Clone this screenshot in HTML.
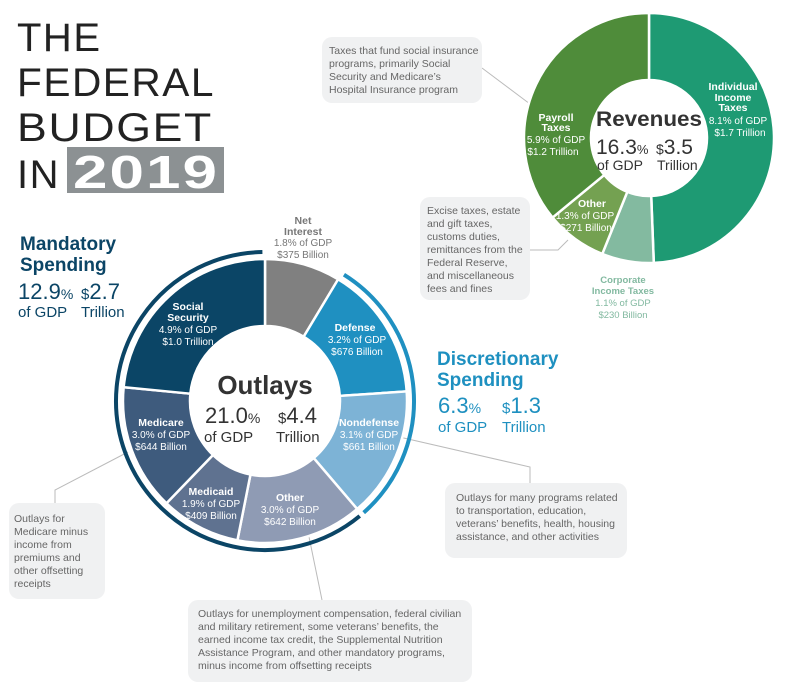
<!DOCTYPE html>
<html><head><meta charset="utf-8">
<style>
html,body{margin:0;padding:0;background:#fff;}
svg{display:block;font-family:"Liberation Sans",sans-serif;}
.cap{font-size:10.5px;fill:#666;}
.lb{font-size:10px;fill:#fff;text-anchor:middle;}
.lbb{font-size:10.5px;fill:#fff;font-weight:bold;text-anchor:middle;}
</style></head>
<body>
<svg id="chart" width="800" height="689" viewBox="0 0 800 689">
  <g font-size="40" fill="#222" letter-spacing="1.5">
    <text x="17" y="51">THE</text>
    <text x="17" y="96" textLength="198" lengthAdjust="spacingAndGlyphs">FEDERAL</text>
    <text x="17" y="141" textLength="196" lengthAdjust="spacingAndGlyphs">BUDGET</text>
    <text x="17" y="188">IN</text>
    <rect x="67" y="147" width="157" height="46" fill="#8c9193"/>
    <text x="73" y="188" fill="#fff" font-weight="bold" font-size="46" textLength="146" lengthAdjust="spacingAndGlyphs">2019</text>
  </g>

  <g fill="#0b4566">
    <text x="20" y="250" font-size="19" font-weight="bold">Mandatory</text>
    <text x="20" y="271" font-size="19" font-weight="bold">Spending</text>
    <text x="18" y="299" font-size="22">12.9<tspan font-size="14">%</tspan></text>
    <text x="18" y="317" font-size="15">of GDP</text>
    <text x="81" y="299" font-size="22"><tspan font-size="15">$</tspan>2.7</text>
    <text x="81" y="317" font-size="15">Trillion</text>
  </g>

  <g fill="#1e90c0">
    <text x="437" y="365" font-size="19" font-weight="bold">Discretionary</text>
    <text x="437" y="386" font-size="19" font-weight="bold">Spending</text>
    <text x="438" y="413" font-size="22">6.3<tspan font-size="14">%</tspan></text>
    <text x="438" y="432" font-size="15">of GDP</text>
    <text x="502" y="413" font-size="22"><tspan font-size="15">$</tspan>1.3</text>
    <text x="502" y="432" font-size="15">Trillion</text>
  </g>

  <g id="leaders" stroke="#bbb" stroke-width="1" fill="none">
    <polyline points="482,68 530,104"/>
    <polyline points="528,250 558,250 568,240"/>
    <polyline points="55,503 55,490 128,452"/>
    <polyline points="308,532 322,600"/>
    <polyline points="395,436 530,467 530,484"/>
  </g>

  <g id="outlays"></g>
  <g id="revenues"></g>

  <g fill="#333">
    <text x="265" y="394" font-size="26" font-weight="bold" text-anchor="middle">Outlays</text>
    <text x="205" y="423" font-size="22">21.0<tspan font-size="14">%</tspan></text>
    <text x="204" y="442" font-size="15">of GDP</text>
    <text x="278" y="423" font-size="22"><tspan font-size="15">$</tspan>4.4</text>
    <text x="276" y="442" font-size="15">Trillion</text>
  </g>
  <g fill="#333">
    <text x="649" y="126" font-size="21" font-weight="bold" text-anchor="middle" textLength="106" lengthAdjust="spacingAndGlyphs">Revenues</text>
    <text x="596" y="154" font-size="21">16.3<tspan font-size="13">%</tspan></text>
    <text x="597" y="170" font-size="14">of GDP</text>
    <text x="656" y="154" font-size="21"><tspan font-size="14">$</tspan>3.5</text>
    <text x="657" y="170" font-size="14">Trillion</text>
  </g>

  <g>
    <g fill="#777" font-size="10" text-anchor="middle">
      <text x="303" y="224" font-weight="bold" font-size="10.5">Net</text>
      <text x="303" y="235" font-weight="bold" font-size="10.5">Interest</text>
      <text x="303" y="246">1.8% of GDP</text>
      <text x="303" y="258">$375 Billion</text>
    </g>
    <g>
      <text class="lbb" x="188" y="310">Social</text>
      <text class="lbb" x="188" y="321">Security</text>
      <text class="lb" x="188" y="333">4.9% of GDP</text>
      <text class="lb" x="188" y="345">$1.0 Trillion</text>
    </g>
    <g>
      <text class="lbb" x="355" y="331">Defense</text>
      <text class="lb" x="357" y="343">3.2% of GDP</text>
      <text class="lb" x="357" y="355">$676 Billion</text>
    </g>
    <g>
      <text class="lbb" x="369" y="426">Nondefense</text>
      <text class="lb" x="369" y="438">3.1% of GDP</text>
      <text class="lb" x="369" y="450">$661 Billion</text>
    </g>
    <g>
      <text class="lbb" x="290" y="501">Other</text>
      <text class="lb" x="290" y="513">3.0% of GDP</text>
      <text class="lb" x="290" y="525">$642 Billion</text>
    </g>
    <g>
      <text class="lbb" x="211" y="495">Medicaid</text>
      <text class="lb" x="211" y="507">1.9% of GDP</text>
      <text class="lb" x="211" y="519">$409 Billion</text>
    </g>
    <g>
      <text class="lbb" x="161" y="426">Medicare</text>
      <text class="lb" x="161" y="438">3.0% of GDP</text>
      <text class="lb" x="161" y="450">$644 Billion</text>
    </g>
  </g>

  <g>
    <g>
      <text class="lbb" x="733" y="90" font-size="9.5">Individual</text>
      <text class="lbb" x="733" y="101" font-size="9.5">Income</text>
      <text class="lbb" x="733" y="111" font-size="9.5">Taxes</text>
      <text class="lb" x="738" y="124" font-size="9.5">8.1% of GDP</text>
      <text class="lb" x="740" y="136" font-size="9.5">$1.7 Trillion</text>
    </g>
    <g>
      <text class="lbb" x="556" y="121" font-size="9.5">Payroll</text>
      <text class="lbb" x="556" y="131" font-size="9.5">Taxes</text>
      <text class="lb" x="556" y="143" font-size="9.5">5.9% of GDP</text>
      <text class="lb" x="553" y="155" font-size="9.5">$1.2 Trillion</text>
    </g>
    <g>
      <text class="lbb" x="592" y="207" font-size="9.5">Other</text>
      <text class="lb" x="585" y="219" font-size="9">1.3% of GDP</text>
      <text class="lb" x="586" y="231" font-size="9">$271 Billion</text>
    </g>
    <g fill="#82b9a0" text-anchor="middle" font-size="9.5">
      <text x="623" y="283" font-weight="bold">Corporate</text>
      <text x="623" y="294" font-weight="bold">Income Taxes</text>
      <text x="623" y="306">1.1% of GDP</text>
      <text x="623" y="318">$230 Billion</text>
    </g>
  </g>

  <g>
    <rect x="322" y="37" width="160" height="66" rx="10" fill="#f0f1f2"/>
    <text class="cap" x="329" y="54">Taxes that fund social insurance</text>
    <text class="cap" x="329" y="67">programs, primarily Social</text>
    <text class="cap" x="329" y="80">Security and Medicare’s</text>
    <text class="cap" x="329" y="93">Hospital Insurance program</text>
  </g>
  <g>
    <rect x="420" y="197" width="110" height="103" rx="10" fill="#f0f1f2"/>
    <text class="cap" x="427" y="214">Excise taxes, estate</text>
    <text class="cap" x="427" y="227">and gift taxes,</text>
    <text class="cap" x="427" y="240">customs duties,</text>
    <text class="cap" x="427" y="253">remittances from the</text>
    <text class="cap" x="427" y="266">Federal Reserve,</text>
    <text class="cap" x="427" y="279">and miscellaneous</text>
    <text class="cap" x="427" y="292">fees and fines</text>
  </g>
  <g>
    <rect x="9" y="503" width="96" height="96" rx="10" fill="#f0f1f2"/>
    <text class="cap" x="14" y="522">Outlays for</text>
    <text class="cap" x="14" y="535">Medicare minus</text>
    <text class="cap" x="14" y="548">income from</text>
    <text class="cap" x="14" y="561">premiums and</text>
    <text class="cap" x="14" y="574">other offsetting</text>
    <text class="cap" x="14" y="587">receipts</text>
  </g>
  <g>
    <rect x="188" y="600" width="284" height="82" rx="10" fill="#f0f1f2"/>
    <text class="cap" x="198" y="617">Outlays for unemployment compensation, federal civilian</text>
    <text class="cap" x="198" y="630">and military retirement, some veterans’ benefits, the</text>
    <text class="cap" x="198" y="643">earned income tax credit, the Supplemental Nutrition</text>
    <text class="cap" x="198" y="656">Assistance Program, and other mandatory programs,</text>
    <text class="cap" x="198" y="669">minus income from offsetting receipts</text>
  </g>
  <g>
    <rect x="445" y="483" width="182" height="75" rx="10" fill="#f0f1f2"/>
    <text class="cap" x="456" y="501">Outlays for many programs related</text>
    <text class="cap" x="456" y="514">to transportation, education,</text>
    <text class="cap" x="456" y="527">veterans’ benefits, health, housing</text>
    <text class="cap" x="456" y="540">assistance, and other activities</text>
  </g>
</svg>
<script>
const outlayCategories = ["Net Interest","Defense","Nondefense","Other","Medicaid","Medicare","Social Security"];
const outlayValues = [1.8, 3.2, 3.1, 3.0, 1.9, 3.0, 4.9];
const outlayGroup = ["none","discretionary","discretionary","mandatory","mandatory","mandatory","mandatory"];
const outlayColors = ["#808080","#1f90c1","#7db3d6","#8f9bb4","#5f7290","#3e5b7d","#0b4566"];
const revenueCategories = ["Individual Income Taxes","Corporate Income Taxes","Other","Payroll Taxes"];
const revenueValues = [8.1, 1.1, 1.3, 5.9];
const revenueColors = ["#1e9a73","#83baa0","#74a151","#4f8c3a"];

const NS = "http://www.w3.org/2000/svg";
function pt(cx, cy, r, a){ const t = a*Math.PI/180; return [cx + r*Math.sin(t), cy - r*Math.cos(t)]; }
function slicePath(cx, cy, r0, r1, a0, a1){
  const p1 = pt(cx,cy,r1,a0), p2 = pt(cx,cy,r1,a1), p3 = pt(cx,cy,r0,a1), p4 = pt(cx,cy,r0,a0);
  const lg = (a1-a0) > 180 ? 1 : 0;
  return `M${p1[0]},${p1[1]} A${r1},${r1} 0 ${lg} 1 ${p2[0]},${p2[1]} L${p3[0]},${p3[1]} A${r0},${r0} 0 ${lg} 0 ${p4[0]},${p4[1]} Z`;
}
function arcPath(cx, cy, r, a0, a1){
  const p1 = pt(cx,cy,r,a0), p2 = pt(cx,cy,r,a1);
  const lg = (a1-a0) > 180 ? 1 : 0;
  return `M${p1[0]},${p1[1]} A${r},${r} 0 ${lg} 1 ${p2[0]},${p2[1]}`;
}
function drawDonut(gid, cats, vals, cols, cx, cy, r0, r1){
  const g = document.getElementById(gid);
  const total = vals.reduce((a,b)=>a+b,0);
  let a = 0; const angles = [];
  vals.forEach((v,i)=>{
    const a1 = a + v/total*360;
    const p = document.createElementNS(NS,"path");
    p.setAttribute("d", slicePath(cx,cy,r0,r1,a,a1));
    p.setAttribute("fill", cols[i]);
    p.setAttribute("stroke", "#fff");
    p.setAttribute("stroke-width", "2.5");
    
    
    g.appendChild(p);
    angles.push([a,a1]);
    a = a1;
  });
  return angles;
}
const oa = drawDonut("outlays", outlayCategories, outlayValues, outlayColors, 265, 401, 75, 142);
drawDonut("revenues", revenueCategories, revenueValues, revenueColors, 649, 138, 58, 125);

const og = document.getElementById("outlays");
[["mandatory","#0b4566"],["discretionary","#1f90c1"]].forEach(([grp,col])=>{
  let s = null, e = null;
  outlayGroup.forEach((gname,i)=>{ if(gname===grp){ if(s===null) s = oa[i][0]; e = oa[i][1]; } });
  if(s===null) return;
  const p = document.createElementNS(NS,"path");
  p.setAttribute("d", arcPath(265,401,149,s+1,e-1));
  p.setAttribute("fill","none");
  p.setAttribute("stroke",col);
  p.setAttribute("stroke-width","4");
  
  
  og.appendChild(p);
});
</script>
</body></html>
